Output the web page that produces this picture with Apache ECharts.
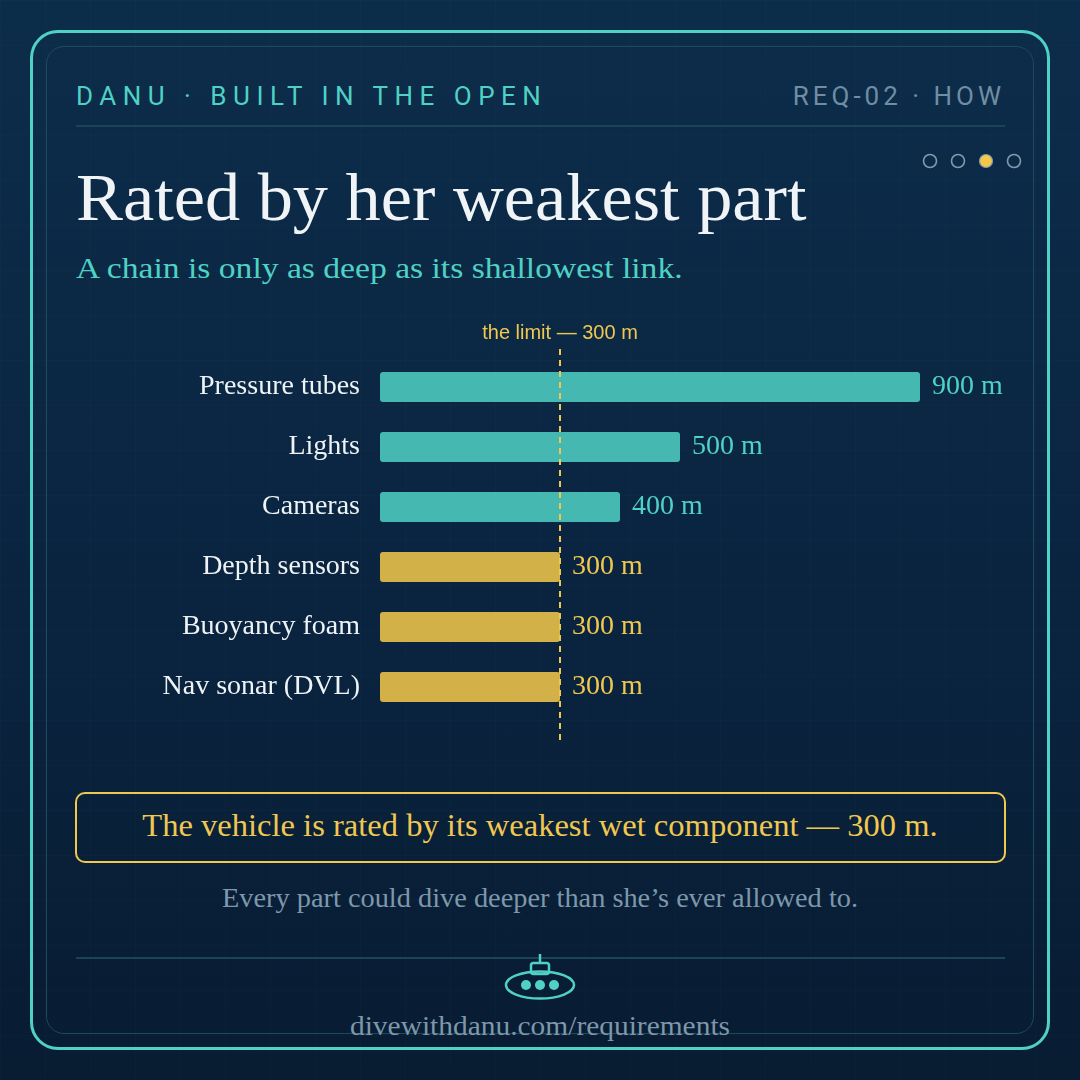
<!DOCTYPE html>
<html>
<head>
<meta charset="utf-8">
<title>Rated by her weakest part</title>
<script src="https://cdn.jsdelivr.net/npm/echarts@6/dist/echarts.min.js"></script>
<style>
  html, body { margin: 0; padding: 0; }
  body {
    width: 1080px; height: 1080px; position: relative; overflow: hidden;
    background-color: #0a2640;
    background-image:
      linear-gradient(rgba(255,255,255,0.013) 1px, transparent 1px),
      linear-gradient(90deg, rgba(255,255,255,0.013) 1px, transparent 1px),
      linear-gradient(180deg, #0c2d4a 0%, #0a2440 55%, #081c32 100%);
    background-size: 45px 45px, 45px 45px, 100% 100%;
  }
  .frame-outer {
    position: absolute; left: 30px; top: 30px; width: 1014px; height: 1014px;
    border: 3px solid #4fd1c5; border-radius: 28px;
  }
  .frame-inner {
    position: absolute; left: 46px; top: 46px; width: 986px; height: 986px;
    border: 1.5px solid #1d4a5f; border-radius: 18px;
  }
  .rule { position: absolute; left: 76px; width: 929px; height: 2px; background: #1b4459; }
  .t { position: absolute; white-space: nowrap; line-height: 1; }
  .kicker { font-family: Roboto, sans-serif; font-size: 26px; letter-spacing: 6.5px; }
  .serif { font-family: "Liberation Serif", "DejaVu Serif", serif; }
  .wide { transform-origin: left center; }
  .mid { left: 0; width: 1080px; text-align: center; transform-origin: center center; }
  .callout {
    position: absolute; left: 75px; top: 792px; width: 927px; height: 67px;
    border: 2px solid #f0c850; border-radius: 10px;
  }
  #chart { position: absolute; left: 0; top: 0; width: 1080px; height: 1080px; }
</style>
</head>
<body>
<div class="frame-outer"></div>
<div class="frame-inner"></div>

<div class="t kicker" style="left:76px; top:83px; color:#4fd1c5;">DANU · BUILT IN THE OPEN</div>
<div class="t kicker" style="right:75px; top:83px; color:#6f8ea3; letter-spacing:4px;">REQ-02 · HOW</div>
<div class="rule" style="top:125px;"></div>

<svg style="position:absolute; left:915px; top:148px;" width="110" height="28">
  <circle cx="15" cy="13" r="6.5" fill="none" stroke="#7f9bad" stroke-width="1.6"/>
  <circle cx="43" cy="13" r="6.5" fill="none" stroke="#7f9bad" stroke-width="1.6"/>
  <circle cx="71" cy="13" r="6.5" fill="#f5c84a" stroke="#7f9bad" stroke-width="1.2"/>
  <circle cx="99" cy="13" r="6.5" fill="none" stroke="#7f9bad" stroke-width="1.6"/>
</svg>

<div class="t serif wide" style="left:76px; top:164px; font-size:67px; color:#f0f4f6; transform:scaleX(1.05);">Rated by her weakest part</div>
<div class="t serif wide" style="left:76px; top:253px; font-size:30px; color:#4fd1c5; transform:scaleX(1.12);">A chain is only as deep as its shallowest link.</div>

<div class="callout"></div>
<div class="t serif mid" style="top:810px; font-size:31px; color:#f0c850; transform:scaleX(1.05);">The vehicle is rated by its weakest wet component — 300 m.</div>
<div class="t serif mid" style="top:885px; font-size:27px; color:#7d98aa; transform:scaleX(1.05);">Every part could dive deeper than she’s ever allowed to.</div>

<div class="rule" style="top:957px; height:1.5px;"></div>

<svg style="position:absolute; left:500px; top:950px;" width="80" height="52">
  <line x1="40" y1="4" x2="40" y2="13" stroke="#4fd1c5" stroke-width="2.5"/>
  <rect x="31" y="13" width="18" height="11" rx="2.5" fill="none" stroke="#4fd1c5" stroke-width="2.5"/>
  <ellipse cx="40" cy="35" rx="34" ry="13.5" fill="none" stroke="#4fd1c5" stroke-width="2.5"/>
  <circle cx="26" cy="35" r="5" fill="#4fd1c5"/>
  <circle cx="40" cy="35" r="5" fill="#4fd1c5"/>
  <circle cx="54" cy="35" r="5" fill="#4fd1c5"/>
</svg>
<div class="t serif mid" style="top:1013px; font-size:27px; color:#7d98aa; transform:scaleX(1.09);">divewithdanu.com/requirements</div>

<div id="chart"></div>

<script>
  // 部件及其额定深度
  var parts = ['Pressure tubes', 'Lights', 'Cameras', 'Depth sensors', 'Buoyancy foam', 'Nav sonar (DVL)'];
  var depths = [900, 500, 400, 300, 300, 300];
  var limit = 300;
  var depthMax = 900;

  var serif = '"Liberation Serif", "DejaVu Serif", serif';

  // 超过限值为青色, 等于限值为金色
  var barData = depths.map(function (v) {
    var over = v > limit;
    return {
      value: v,
      itemStyle: { color: over ? 'rgba(79, 209, 197, 0.86)' : 'rgba(245, 200, 74, 0.86)' },
      label: { color: over ? '#4fd1c5' : '#f0c850' }
    };
  });

  var chart = echarts.init(document.getElementById('chart'), null, { renderer: 'canvas' });

  var option = {
    backgroundColor: 'transparent',
    animation: false,
    grid: [
      // 条形图
      { left: 380, top: 357, width: 540, height: 360 },
      // 限值线 (比条形区域高一点)
      { left: 380, top: 348, width: 540, height: 392 }
    ],
    xAxis: [
      { type: 'value', gridIndex: 0, min: 0, max: depthMax, show: false },
      { type: 'value', gridIndex: 1, min: 0, max: depthMax, show: false }
    ],
    yAxis: [
      {
        type: 'category', gridIndex: 0, data: parts, inverse: true,
        axisLine: { show: false }, axisTick: { show: false },
        axisLabel: { color: '#eef3f5', fontFamily: serif, fontSize: 28, margin: 20 }
      },
      { type: 'value', gridIndex: 1, min: 0, max: 1, show: false }
    ],
    series: [
      {
        type: 'line',
        xAxisIndex: 1,
        yAxisIndex: 1,
        data: [],
        z: 1,
        markLine: {
          silent: true,
          symbol: 'none',
          lineStyle: { color: '#f0c850', width: 2, type: [6, 5] },
          label: {
            show: true,
            position: 'end',
            distance: 5,
            formatter: 'the limit — ' + limit + ' m',
            color: '#f0c850',
            fontFamily: '"Liberation Sans", Arial, sans-serif',
            fontSize: 20
          },
          data: [{ xAxis: limit }]
        }
      },
      {
        type: 'bar',
        xAxisIndex: 0,
        yAxisIndex: 0,
        z: 2,
        barWidth: 30,
        data: barData,
        itemStyle: { borderRadius: 3 },
        label: {
          show: true,
          position: 'right',
          distance: 12,
          fontFamily: serif,
          fontSize: 28,
          formatter: '{c} m'
        }
      }
    ]
  };

  chart.setOption(option);
</script>
</body>
</html>
